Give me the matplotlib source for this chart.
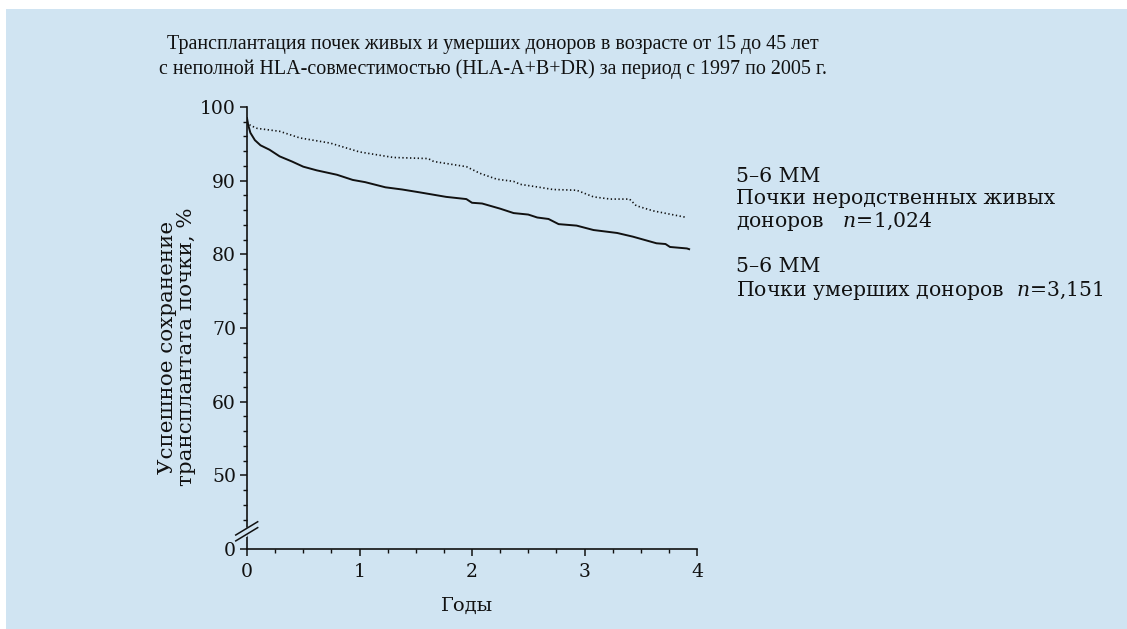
import matplotlib
matplotlib.use("Agg")
import matplotlib.pyplot as plt
from matplotlib.patches import Rectangle
from matplotlib.ticker import FixedLocator

# ---- data ----
t_deceased = [0, 0.01, 0.03, 0.07, 0.12, 0.2, 0.29, 0.4, 0.5, 0.62, 0.74, 0.8, 0.94,
              1.05, 1.23, 1.38, 1.54, 1.77, 1.95, 2.0, 2.09, 2.25, 2.37, 2.5, 2.58,
              2.68, 2.77, 2.93, 3.08, 3.29, 3.43, 3.64, 3.72, 3.76, 3.91, 3.93]
v_deceased = [98.5, 97.6, 96.5, 95.5, 94.8, 94.2, 93.3, 92.6, 91.9, 91.4, 91.0, 90.8, 90.1,
              89.8, 89.1, 88.8, 88.4, 87.8, 87.5, 87.0, 86.9, 86.2, 85.6, 85.4, 85.0,
              84.8, 84.1, 83.9, 83.3, 82.9, 82.4, 81.5, 81.4, 81.0, 80.8, 80.7]

t_living = [0, 0.03, 0.09, 0.29, 0.47, 0.74, 1.0, 1.3, 1.61, 1.66, 1.95, 2.07, 2.22,
            2.37, 2.43, 2.6, 2.72, 2.93, 3.08, 3.23, 3.4, 3.46, 3.61, 3.91]
v_living = [98.0, 97.5, 97.1, 96.7, 95.8, 95.1, 93.9, 93.15, 93.0, 92.6, 91.9, 91.0, 90.2,
            89.9, 89.5, 89.1, 88.8, 88.7, 87.8, 87.5, 87.5, 86.6, 85.9, 85.0]

x_ticks = [0, 1, 2, 3, 4]
x_tick_labels = ["0", "1", "2", "3", "4"]
y_ticks = [40, 50, 60, 70, 80, 90, 100]
y_tick_labels = ["0", "50", "60", "70", "80", "90", "100"]

title = ("Трансплантация почек живых и умерших доноров в возрасте от 15 до 45 лет\n"
         "с неполной HLA-совместимостью (HLA-A+B+DR) за период с 1997 по 2005 г.")
ylabel = "Успешное сохранение\nтрансплантата почки, %"
xlabel = "Годы"
legend_living = "5–6 MM\nПочки неродственных живых\nдоноров   $n$=1,024"
legend_deceased = "5–6 MM\nПочки умерших доноров  $n$=3,151"

# ---- figure ----
plt.rcParams["font.family"] = ["DejaVu Serif", "Liberation Serif"]
plt.rcParams["mathtext.fontset"] = "dejavuserif"

BG = "#d0e4f2"
INK = "#111111"
W, H = 1127, 629
fig = plt.figure(figsize=(W / 100, H / 100), dpi=100, facecolor="white")
fig.patches.append(Rectangle((6 / W, 0), 1 - 6 / W, 1 - 9 / H, transform=fig.transFigure,
                             facecolor=BG, edgecolor="none", zorder=-10))

ax = fig.add_axes([247 / W, (H - 549) / H, (697 - 247) / W, (549 - 107) / H])
ax.set_facecolor("none")
ax.set_xlim(0, 4)
ax.set_ylim(40, 100)

ax.plot(t_deceased, v_deceased, color=INK, lw=1.4, solid_joinstyle="round")
ax.plot(t_living, v_living, color=INK, lw=1.2, linestyle=(0, (0.8, 1.5)))

for s in ["top", "right"]:
    ax.spines[s].set_visible(False)
for s in ["left", "bottom"]:
    ax.spines[s].set_linewidth(1.2)
    ax.spines[s].set_color(INK)

ax.set_xticks(x_ticks)
ax.set_xticklabels(x_tick_labels)
ax.set_yticks(y_ticks)
ax.set_yticklabels(y_tick_labels)
ax.xaxis.set_minor_locator(FixedLocator([i * 0.25 for i in range(17) if i % 4]))
ax.yaxis.set_minor_locator(FixedLocator([v for v in range(44, 100, 2) if v % 10]))
ax.tick_params(which="major", length=5, width=1.1, labelsize=13.5, color=INK,
               labelcolor=INK)
ax.tick_params(axis="x", which="major", pad=5)
ax.tick_params(axis="y", which="major", pad=3)
ax.tick_params(which="minor", length=2.8, width=1.0, color=INK)

# axis break marks
brk_y = [42.0, 42.8]
for by in brk_y:
    ax.plot([-0.1, 0.095], [by - 0.9, by + 0.9], color=INK, lw=1.1,
            clip_on=False, zorder=5)
ax.fill([-0.003, 0.003, 0.003, -0.003], [42.1, 42.9, 42.5, 41.7],
        color=BG, clip_on=False, zorder=4)

fig.text(493 / W, 1 - 57 / H, title, ha="center", va="center", fontsize=14.4,
         family=["Liberation Serif", "DejaVu Serif"], color=INK, linespacing=1.3)
fig.text(177 / W, 1 - 347 / H, ylabel, ha="center", va="center", rotation=90,
         fontsize=15.4, color=INK, linespacing=1.05)
fig.text(467 / W, 1 - 606 / H, xlabel, ha="center", va="center", fontsize=14,
         color=INK)
fig.text(736 / W, 1 - 167 / H, legend_living, ha="left", va="top", fontsize=14.7,
         color=INK, linespacing=1.17)
fig.text(736 / W, 1 - 257 / H, legend_deceased, ha="left", va="top", fontsize=14.7,
         color=INK, linespacing=1.17)

fig.savefig("out.png", dpi=100, facecolor="white")
